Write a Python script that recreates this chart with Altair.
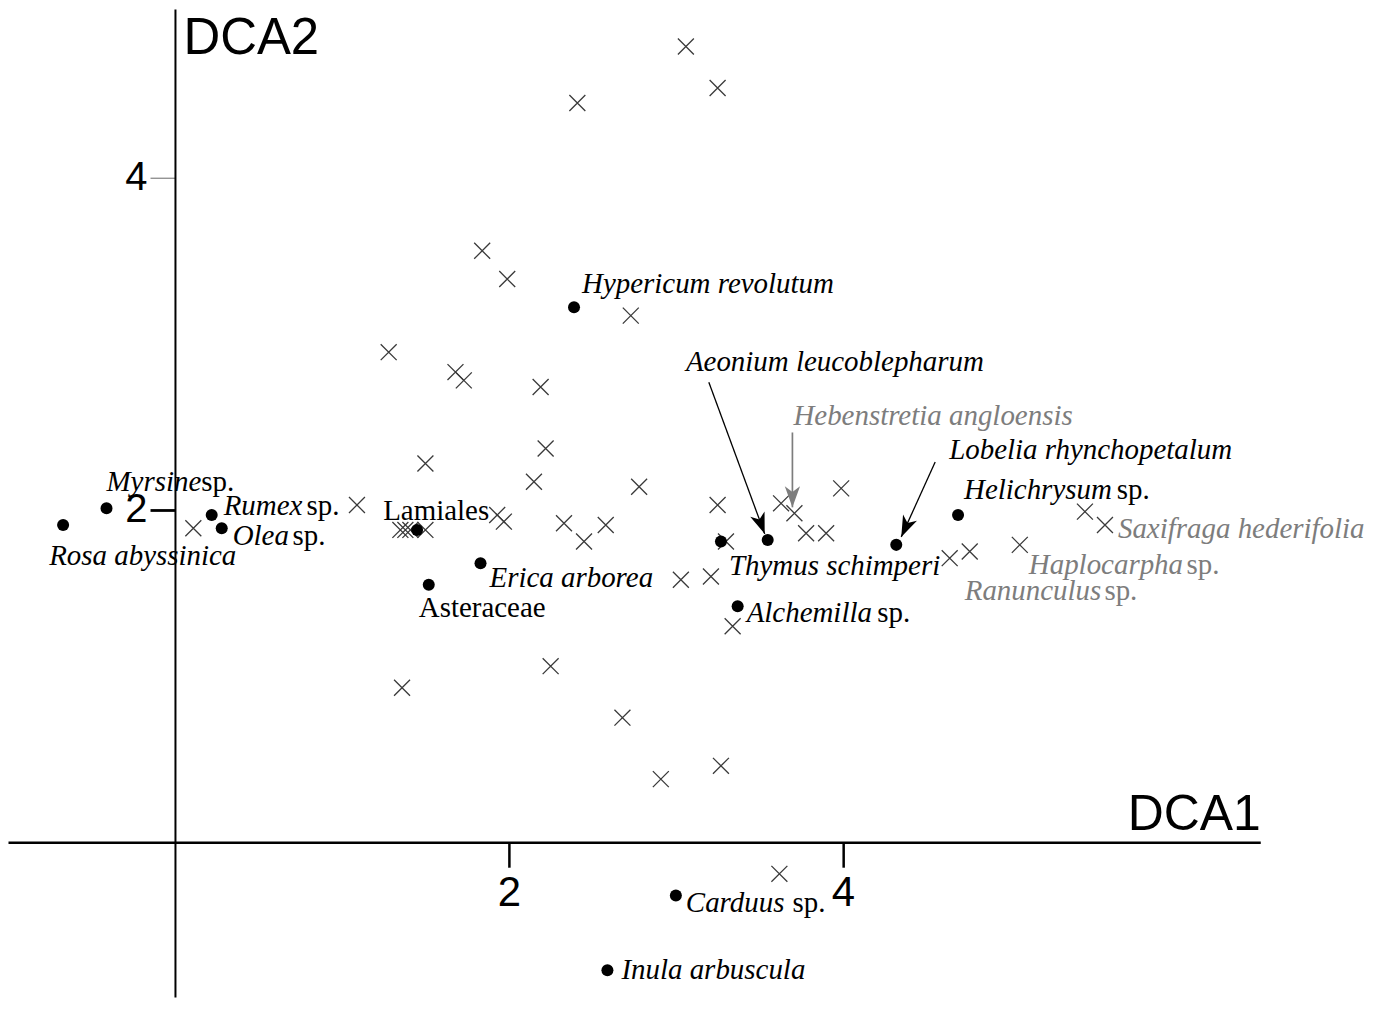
import math
import altair as alt
import pandas as pd

# ---------------- data (DCA scores) ----------------
species_names = [
    "Rosa abyssinica", "Myrsine sp.", "Rumex sp.", "Olea sp.", "Lamiales",
    "Asteraceae", "Erica arborea", "Hypericum revolutum", "Thymus schimperi",
    "Aeonium leucoblepharum", "Lobelia rhynchopetalum", "Helichrysum sp.",
    "Alchemilla sp.", "Carduus sp.", "Inula arbuscula",
]
species_x = [-0.67, -0.41, 0.22, 0.28, 1.45, 1.52, 1.83, 2.39, 3.27, 3.55,
             4.32, 4.69, 3.37, 3.00, 2.59]
species_y = [1.91, 2.01, 1.97, 1.89, 1.88, 1.55, 1.68, 3.22, 1.81, 1.82,
             1.79, 1.97, 1.42, -0.32, -0.77]

# cross-marked taxa that carry a (grey) label
marked_names = ["Hebenstretia angloensis", "Saxifraga hederifolia",
                "Haplocarpha sp.", "Ranunculus sp."]
marked_x = [3.71, 5.57, 5.06, 4.76]
marked_y = [1.98, 1.91, 1.79, 1.75]

# other cross-marked points
site_x = [3.06, 3.25, 2.41, 1.84, 1.99, 2.73, 1.28, 1.68, 1.73, 2.19,
          2.22, 1.50, 2.15, 2.78, 3.99, 1.09, 1.93, 1.97, 2.33, 2.58,
          2.45, 3.25, 3.63, 3.78, 3.90, 3.30, 3.03, 3.21, 3.34, 2.25,
          1.36, 2.68, 2.91, 3.27, 3.62, 4.64, 5.45, 0.11, 1.35, 1.38,
          1.41, 1.50]
site_y = [4.79, 4.54, 4.45, 3.56, 3.39, 3.17, 2.95, 2.83, 2.78, 2.74,
          2.37, 2.28, 2.17, 2.14, 2.13, 2.03, 1.97, 1.93, 1.92, 1.91,
          1.81, 2.03, 2.04, 1.86, 1.86, 1.81, 1.58, 1.60, 1.30, 1.06,
          0.93, 0.75, 0.38, 0.46, -0.19, 1.71, 1.99, 1.89, 1.88, 1.88,
          1.88, 1.88]

axis_ticks = [2, 4]
x_title = "DCA1"
y_title = "DCA2"

# ---------------- layout ----------------
W, H = 1255, 990
XMIN, XMAX = -1.0, 6.5
YMAX = 5.015
YMIN = YMAX - H / 166.5

x_scale = alt.Scale(domain=[XMIN, XMAX], nice=False, zero=False)
y_scale = alt.Scale(domain=[YMIN, YMAX], nice=False, zero=False)

x_off = -(0 - YMIN) / (YMAX - YMIN) * H
y_off = -(0 - XMIN) / (XMAX - XMIN) * W

SANS = "Liberation Sans"
SERIF = "Liberation Serif"
GREY = "#7d7d7d"
FS = 29

x_axis = alt.Axis(
    values=axis_ticks, offset=x_off, grid=False,
    domainColor="black", domainWidth=2.5,
    tickColor="black", tickWidth=2.5, tickSize=25,
    labelFont=SANS, labelFontSize=42, labelColor="black", labelPadding=5,
    title=x_title, titleFont=SANS, titleFontSize=50, titleFontWeight="normal",
    titleColor="black", titleX=W, titleY=-13, titleAlign="right",
    titleBaseline="alphabetic", titleAngle=0,
)
y_axis = alt.Axis(
    values=axis_ticks, offset=y_off, grid=False,
    domainColor="black", domainWidth=2,
    tickColor={"condition": {"test": "datum.value == 4", "value": "#666666"}, "value": "black"},
    tickWidth={"condition": {"test": "datum.value == 4", "value": 1}, "value": 2.8},
    tickSize=25,
    labelFont=SANS, labelFontSize=40, labelColor="black", labelPadding=3,
    title=y_title, titleFont=SANS, titleFontSize=51, titleFontWeight="normal",
    titleColor="black", titleX=8, titleY=45, titleAlign="left",
    titleBaseline="alphabetic", titleAngle=0,
)

XSHAPE = "M-1,-1L1,1M-1,1L1,-1"
HEAD = "M0,0L-0.36,-1L0,-0.72L0.36,-1Z"

sites = pd.DataFrame({"x": site_x + marked_x, "y": site_y + marked_y})
species = pd.DataFrame({"name": species_names, "x": species_x, "y": species_y})

X_ENC = alt.X("x:Q", scale=x_scale, axis=x_axis)
Y_ENC = alt.Y("y:Q", scale=y_scale, axis=y_axis)


def enc(ch):
    return ch.encode(x=X_ENC, y=Y_ENC)


layers = []
layers.append(enc(alt.Chart(sites).mark_point(
    shape=XSHAPE, size=256, filled=False, stroke="#3a3a3a", strokeWidth=1.3,
    opacity=1)))
layers.append(enc(alt.Chart(species).mark_circle(size=145, color="black", opacity=1)))

coords = {n: (x, y) for n, x, y in zip(species_names, species_x, species_y)}
coords.update({n: (x, y) for n, x, y in zip(marked_names, marked_x, marked_y)})

# label placement: name -> (dx, dy, sp_right_dx or None, colour, italic)
labels = {
    "Rosa abyssinica": (-14, 40, None, "black", True),
    "Myrsine sp.": (0, -17, 128, "black", True),
    "Rumex sp.": (12, 0, 128, "black", True),
    "Olea sp.": (11, 17, 104, "black", True),
    "Lamiales": (-34, -10, None, "black", False),
    "Asteraceae": (-10, 32, None, "black", False),
    "Erica arborea": (9, 24, None, "black", True),
    "Hypericum revolutum": (8, -14, None, "black", True),
    "Aeonium leucoblepharum": (-82, -169, None, "black", True),
    "Hebenstretia angloensis": (-1, -88, None, GREY, True),
    "Lobelia rhynchopetalum": (53, -86, None, "black", True),
    "Helichrysum sp.": (6, -16, 192, "black", True),
    "Saxifraga hederifolia": (13, 13, None, GREY, True),
    "Thymus schimperi": (8, 34, None, "black", True),
    "Haplocarpha sp.": (9, 29, 200, GREY, True),
    "Ranunculus sp.": (-5, 49, 168, GREY, True),
    "Alchemilla sp.": (9, 16, 173, "black", True),
    "Carduus sp.": (10, 17, 150, "black", True),
    "Inula arbuscula": (14, 9, None, "black", True),
}

for name, (dx, dy, spdx, col, ital) in labels.items():
    x, y = coords[name]
    main = name[:-4] if spdx is not None else name
    df = pd.DataFrame({"x": [x], "y": [y], "t": [main]})
    layers.append(enc(alt.Chart(df).mark_text(
        dx=dx, dy=dy, align="left", baseline="alphabetic", font=SERIF,
        fontSize=FS, fontStyle="italic" if ital else "normal", color=col
    )).encode(text="t:N"))
    if spdx is not None:
        df2 = pd.DataFrame({"x": [x], "y": [y], "t": ["sp."]})
        layers.append(enc(alt.Chart(df2).mark_text(
            dx=spdx, dy=dy, align="right", baseline="alphabetic", font=SERIF,
            fontSize=FS, fontStyle="normal", color=col
        )).encode(text="t:N"))

# arrows: name -> (start offset, tip offset, colour, line width)
arrows = {
    "Aeonium leucoblepharum": ((-59, -158), (-3, -6), "black", 1.3),
    "Hebenstretia angloensis": ((-2, -81), (-2, -6), GREY, 1.7),
    "Lobelia rhynchopetalum": ((39, -83), (5, -8), "black", 1.3),
}
for name, ((sx, sy), (tx, ty), col, lw) in arrows.items():
    x, y = coords[name]
    df = pd.DataFrame({"x": [x], "y": [y]})
    rule = alt.Chart(df).mark_rule(
        color=col, strokeWidth=lw, xOffset=sx, yOffset=sy,
        x2Offset=tx, y2Offset=ty
    ).encode(x=X_ENC, y=Y_ENC, x2="x:Q", y2="y:Q")
    layers.append(rule)
    ang = (math.degrees(math.atan2(-(tx - sx), (ty - sy)))) % 360
    head = alt.Chart(df).mark_point(
        shape=HEAD, size=1800, filled=True, color=col, opacity=1,
        strokeWidth=0, angle=ang, xOffset=tx, yOffset=ty
    )
    layers.append(enc(head))

chart = alt.layer(*layers).properties(
    width=W, height=H,
    background="white",
    autosize=alt.AutoSizeParams(type="none"),
    padding={"left": 0, "top": 0, "right": 115, "bottom": 0},
).configure_view(stroke=None)

chart.save("out.html", embed_options={"renderer": "svg", "actions": False})
